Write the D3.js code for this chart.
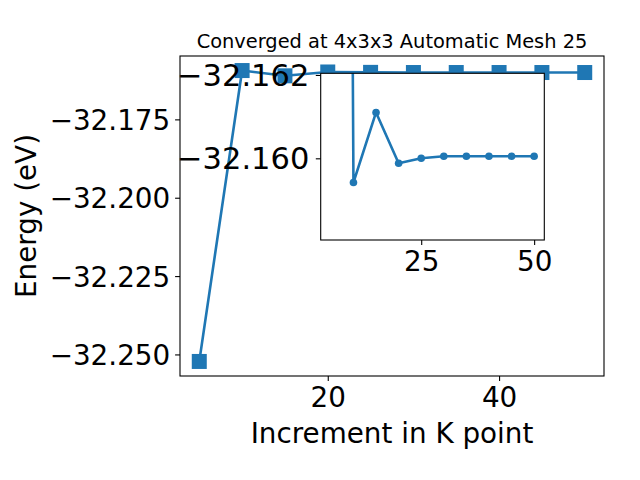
<!DOCTYPE html>
<html>
<head>
<meta charset="utf-8">
<script src="https://cdn.jsdelivr.net/npm/d3@7"></script>
<style>
  html, body { margin: 0; padding: 0; background: #fff; }
  text { font-family: "DejaVu Sans", sans-serif; fill: #000; }
</style>
</head>
<body>
<script>
// ---- data ----
const kIncrements = [5, 10, 15, 20, 25, 30, 35, 40, 45, 50];
const energies = [-32.25224, -32.15942, -32.16110, -32.15988, -32.16000, -32.16005, -32.16005, -32.16005, -32.16005, -32.16005];
const mainXTicks = [20, 40];
const mainYTicks = [-32.250, -32.225, -32.200, -32.175];
const insetXTicks = [25, 50];
const insetYTicks = [-32.162, -32.160];
const insetYLimits = [-32.16204, -32.15804]; // inverted axis: first value at top
const titleText = "Converged at 4x3x3 Automatic Mesh 25";
const xLabelText = "Increment in K point";
const yLabelText = "Energy (eV)";

const W = 640, H = 480;
const color = "#1f77b4";
const main = {left: 180, right: 604, top: 56, bottom: 376};
const inset = {left: 320.7, right: 544.3, top: 73.3, bottom: 240};
const tickFont = 27.8, insetXTickFont = 27.8, insetYTickFont = 30.5, labelFont = 27.8, titleFont = 19.4;
const lineW = 2.6;

const svg = d3.select("body").append("svg").attr("width", W).attr("height", H);

function padded(ext) {
  const m = (ext[1] - ext[0]) * 0.05;
  return [ext[0] - m, ext[1] + m];
}

// ---- main axes ----
const x = d3.scaleLinear().domain(padded(d3.extent(kIncrements))).range([main.left, main.right]);
const y = d3.scaleLinear().domain(padded(d3.extent(energies))).range([main.bottom, main.top]);

const defs = svg.append("defs");
defs.append("clipPath").attr("id", "clipMain").append("rect")
  .attr("x", main.left).attr("y", main.top).attr("width", main.right - main.left).attr("height", main.bottom - main.top);
defs.append("clipPath").attr("id", "clipInset").append("rect")
  .attr("x", inset.left).attr("y", inset.top).attr("width", inset.right - inset.left).attr("height", inset.bottom - inset.top);

const pts = kIncrements.map((k, i) => ({k, e: energies[i]}));

const gMain = svg.append("g");
gMain.append("rect").attr("x", main.left).attr("y", main.top)
  .attr("width", main.right - main.left).attr("height", main.bottom - main.top).attr("fill", "#fff");

const plotMain = gMain.append("g").attr("clip-path", "url(#clipMain)");
plotMain.append("path").datum(pts)
  .attr("d", d3.line().x(d => x(d.k)).y(d => y(d.e)))
  .attr("fill", "none").attr("stroke", color).attr("stroke-width", lineW).attr("stroke-linejoin", "round");
const ms = 15;
plotMain.selectAll("rect.m").data(pts).join("rect").attr("class", "m")
  .attr("x", d => x(d.k) - ms / 2).attr("y", d => y(d.e) - ms / 2)
  .attr("width", ms).attr("height", ms).attr("fill", color);

function styleAxis(g, fs) {
  g.select(".domain").remove();
  g.selectAll(".tick line").attr("stroke", "#000").attr("stroke-width", 1.1);
  g.selectAll(".tick text").attr("font-size", fs).attr("font-family", "DejaVu Sans").attr("fill", "#000");
}

const fmt3 = d3.format(".3f");
const gx = gMain.append("g").attr("transform", `translate(0,${main.bottom})`)
  .call(d3.axisBottom(x).tickValues(mainXTicks).tickSize(4.9).tickPadding(4.9).tickFormat(d3.format("d")));
styleAxis(gx, tickFont);
gx.selectAll(".tick text").attr("dy", "0.76em");

const gy = gMain.append("g").attr("transform", `translate(${main.left},0)`)
  .call(d3.axisLeft(y).tickValues(mainYTicks).tickSize(4.9).tickPadding(4.9).tickFormat(fmt3));
styleAxis(gy, tickFont);
gy.selectAll(".tick text").attr("dy", "0.36em");

gMain.append("rect").attr("x", main.left).attr("y", main.top)
  .attr("width", main.right - main.left).attr("height", main.bottom - main.top)
  .attr("fill", "none").attr("stroke", "#000").attr("stroke-width", 1.1);

svg.append("text").attr("x", (main.left + main.right) / 2).attr("y", 47.5)
  .attr("text-anchor", "middle").attr("font-size", titleFont).text(titleText);
svg.append("text").attr("x", (main.left + main.right) / 2).attr("y", 442.5)
  .attr("text-anchor", "middle").attr("font-size", labelFont).text(xLabelText);
svg.append("text").attr("transform", `translate(36,${(main.top + main.bottom) / 2}) rotate(-90)`)
  .attr("text-anchor", "middle").attr("font-size", labelFont).text(yLabelText);

// ---- inset axes ----
const xi = d3.scaleLinear().domain(padded(d3.extent(kIncrements))).range([inset.left, inset.right]);
const yi = d3.scaleLinear().domain(insetYLimits).range([inset.top, inset.bottom]);

const gIn = svg.append("g");
gIn.append("rect").attr("x", inset.left).attr("y", inset.top)
  .attr("width", inset.right - inset.left).attr("height", inset.bottom - inset.top).attr("fill", "#fff");
const plotIn = gIn.append("g").attr("clip-path", "url(#clipInset)");
plotIn.append("path").datum(pts)
  .attr("d", d3.line().x(d => xi(d.k)).y(d => yi(d.e)))
  .attr("fill", "none").attr("stroke", color).attr("stroke-width", lineW).attr("stroke-linejoin", "round");
plotIn.selectAll("circle").data(pts).join("circle")
  .attr("cx", d => xi(d.k)).attr("cy", d => yi(d.e)).attr("r", 3.8).attr("fill", color);

const gxi = gIn.append("g").attr("transform", `translate(0,${inset.bottom})`)
  .call(d3.axisBottom(xi).tickValues(insetXTicks).tickSize(4.9).tickPadding(4.9).tickFormat(d3.format("d")));
styleAxis(gxi, insetXTickFont);
gxi.selectAll(".tick text").attr("dy", "0.76em");

const gyi = gIn.append("g").attr("transform", `translate(${inset.left},0)`)
  .call(d3.axisLeft(yi).tickValues(insetYTicks).tickSize(4.9).tickPadding(6.5).tickFormat(fmt3));
styleAxis(gyi, insetYTickFont);
gyi.selectAll(".tick text").attr("dy", "0.33em");

gIn.append("rect").attr("x", inset.left).attr("y", inset.top)
  .attr("width", inset.right - inset.left).attr("height", inset.bottom - inset.top)
  .attr("fill", "none").attr("stroke", "#000").attr("stroke-width", 1.1);
</script>
</body>
</html>
